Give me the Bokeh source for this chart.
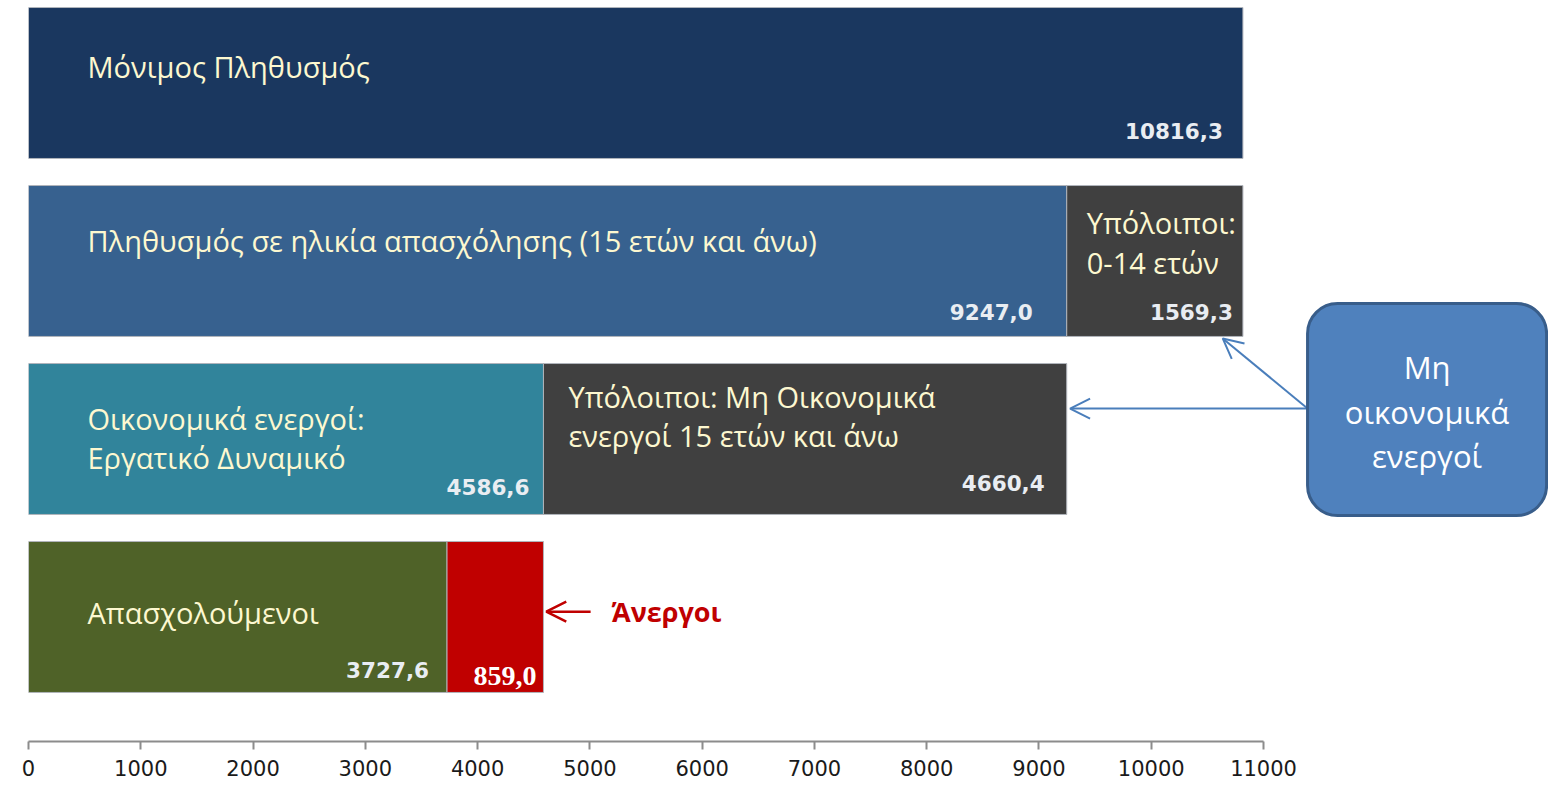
from bokeh.plotting import figure
from bokeh.models import Range1d, FixedTicker, ColumnDataSource, Arrow, OpenHead, BoxAnnotation
from bokeh.core.properties import value
from bokeh.embed import file_html
from bokeh.resources import INLINE

# ---------------- data ----------------
categories = [
    "Μόνιμος Πληθυσμός",
    "Πληθυσμός σε ηλικία απασχόλησης (15 ετών και άνω)",
    "Οικονομικά ενεργοί:\nΕργατικό Δυναμικό",
    "Απασχολούμενοι",
]
main_values = [10816.3, 9247.0, 4586.6, 3727.6]
rest_values = [0.0, 1569.3, 4660.4, 859.0]
rest_labels = ["", "Υπόλοιποι:\n0-14 ετών", "Υπόλοιποι: Μη Οικονομικά\nενεργοί 15 ετών και άνω", ""]
unemployed_label = "Άνεργοι"
callout_lines = ["Μη", "οικονομικά", "ενεργοί"]
x_ticks = [0, 1000, 2000, 3000, 4000, 5000, 6000, 7000, 8000, 9000, 10000, 11000]

# ---------------- style ----------------
main_colors = ["#1a375f", "#37618f", "#31849b", "#4f6228"]
rest_colors = ["#404040", "#404040", "#404040", "#c00000"]
cream = "#fdf8d0"
BAR_H = 0.848
n = len(categories)
ys = [n - 1 - i for i in range(n)]

p = figure(width=1548, height=781, output_backend="svg", toolbar_location=None,
           x_range=Range1d(0, 13538), y_range=Range1d(-0.6995, 3.4635),
           y_axis_type=None, min_border_left=28, min_border_right=0,
           min_border_top=0, min_border_bottom=40)
p.outline_line_color = None
p.xgrid.visible = False
p.ygrid.visible = False
p.background_fill_color = "white"
p.border_fill_color = "white"

# bars
main_src = ColumnDataSource(dict(y=ys, left=[0] * n, right=main_values, color=main_colors))
p.hbar(y="y", left="left", right="right", height=BAR_H, fill_color="color",
       line_color="#b0b4bb", line_width=1, source=main_src)
ri = [i for i in range(n) if rest_values[i] > 0]
rest_src = ColumnDataSource(dict(
    y=[ys[i] for i in ri],
    left=[main_values[i] for i in ri],
    right=[main_values[i] + rest_values[i] for i in ri],
    color=[rest_colors[i] for i in ri]))
p.hbar(y="y", left="left", right="right", height=BAR_H, fill_color="color",
       line_color="#b0b4bb", line_width=1, source=rest_src)

# category texts (inside bars)
cat_y_off = [[-16.5], [-20.5], [-20, 19], [-4.5]]
tx, ty, tt, txo, tyo = [], [], [], [], []
for i, c in enumerate(categories):
    for k, line in enumerate(c.split("\n")):
        tx.append(0); ty.append(ys[i]); tt.append(line)
        txo.append(59); tyo.append(cat_y_off[i][k])
rest_y_off = [[], [-38.5, 1.5], [-42, -3], []]
rest_x_off = [0, 20, 25, 0]
for i, c in enumerate(rest_labels):
    if not c:
        continue
    for k, line in enumerate(c.split("\n")):
        tx.append(main_values[i]); ty.append(ys[i]); tt.append(line)
        txo.append(rest_x_off[i]); tyo.append(rest_y_off[i][k])
p.text(x="x", y="y", text="t", x_offset="xo", y_offset="yo",
       source=ColumnDataSource(dict(x=tx, y=ty, t=tt, xo=txo, yo=tyo)),
       text_font=value("Open Sans"), text_font_size=value("29px"),
       text_color=cream, text_align="left", text_baseline="middle")

def fmt(v):
    return f"{v:.1f}".replace(".", ",")

# value labels
main_x_off = [-20, -34, -14, -18]
main_y_off = [47.5, 51.5, 48, 53.5]
p.text(x=main_values, y=ys, text=[fmt(v) for v in main_values],
       x_offset=main_x_off, y_offset=main_y_off,
       text_font=value("DejaVu Sans"), text_font_style="bold",
       text_font_size=value("21.5px"), text_color="#e9edf2",
       text_align="right", text_baseline="middle")
rest_vx_off = [0, -10, -22, -7]
rest_vy_off = [0, 51.5, 44, 59.5]
vi = [1, 2]
p.text(x=[main_values[i] + rest_values[i] for i in vi], y=[ys[i] for i in vi],
       text=[fmt(rest_values[i]) for i in vi],
       x_offset=[rest_vx_off[i] for i in vi], y_offset=[rest_vy_off[i] for i in vi],
       text_font=value("DejaVu Sans"), text_font_style="bold",
       text_font_size=value("21.5px"), text_color="#e9edf2",
       text_align="right", text_baseline="middle")
p.text(x=[main_values[3] + rest_values[3]], y=[ys[3]], text=[fmt(rest_values[3])],
       x_offset=[rest_vx_off[3]], y_offset=[rest_vy_off[3]],
       text_font=value("Liberation Serif"), text_font_style="bold",
       text_font_size=value("28px"), text_color="white",
       text_align="right", text_baseline="middle")

# unemployed annotation
tot4 = main_values[3] + rest_values[3]
p.add_layout(Arrow(end=OpenHead(size=20, line_color="#c00000", line_width=2.5),
                   x_start=tot4 + 420, y_start=ys[3] + 0.03,
                   x_end=tot4 + 25, y_end=ys[3] + 0.03,
                   line_color="#c00000", line_width=2.5))
p.text(x=[tot4], y=[ys[3]], text=[unemployed_label], x_offset=[68], y_offset=[-5],
       text_font=value("Open Sans"), text_font_style="bold",
       text_font_size=value("27px"), text_color="#c00000",
       text_align="left", text_baseline="middle")

# callout
c_left, c_right, c_top, c_bottom = 11392, 13521, 1.761, 0.570
tot2 = main_values[1] + rest_values[1]
tot3 = main_values[2] + rest_values[2]
blue = "#4a7ebb"
p.add_layout(Arrow(end=OpenHead(size=20, line_color=blue, line_width=2),
                   x_start=c_left, y_start=ys[2] + 0.171,
                   x_end=tot3 + 30, y_end=ys[2] + 0.171,
                   line_color=blue, line_width=2))
p.add_layout(Arrow(end=OpenHead(size=20, line_color=blue, line_width=2),
                   x_start=c_left, y_start=ys[2] + 0.171,
                   x_end=tot2 - 180, y_end=ys[1] - 0.435,
                   line_color=blue, line_width=2))
p.add_layout(BoxAnnotation(left=c_left, right=c_right, top=c_top, bottom=c_bottom,
                           fill_color="#4f81bd", fill_alpha=1.0,
                           line_color="#385d8a", line_alpha=1.0, line_width=3,
                           border_radius=30))
cx = (c_left + c_right) / 2
p.text(x=[cx] * 3, y=[1.407, 1.154, 0.907], text=callout_lines,
       text_font=value("Open Sans"), text_font_size=value("31px"),
       text_color="white", text_align="center", text_baseline="middle", level="overlay")

# axis
ax = p.xaxis[0]
ax.ticker = FixedTicker(ticks=x_ticks)
ax.bounds = (0, 11000)
ax.axis_line_color = "#8c8c8c"
ax.axis_line_width = 2
ax.major_tick_line_color = "#8c8c8c"
ax.major_tick_line_width = 2
ax.major_tick_in = 0
ax.major_tick_out = 8
ax.minor_tick_line_color = None
ax.major_label_standoff = 10
ax.major_label_text_font = "DejaVu Sans"
ax.major_label_text_font_size = "21px"
ax.major_label_text_color = "#1a1a1a"

open("out.html", "w").write(file_html(p, INLINE))
